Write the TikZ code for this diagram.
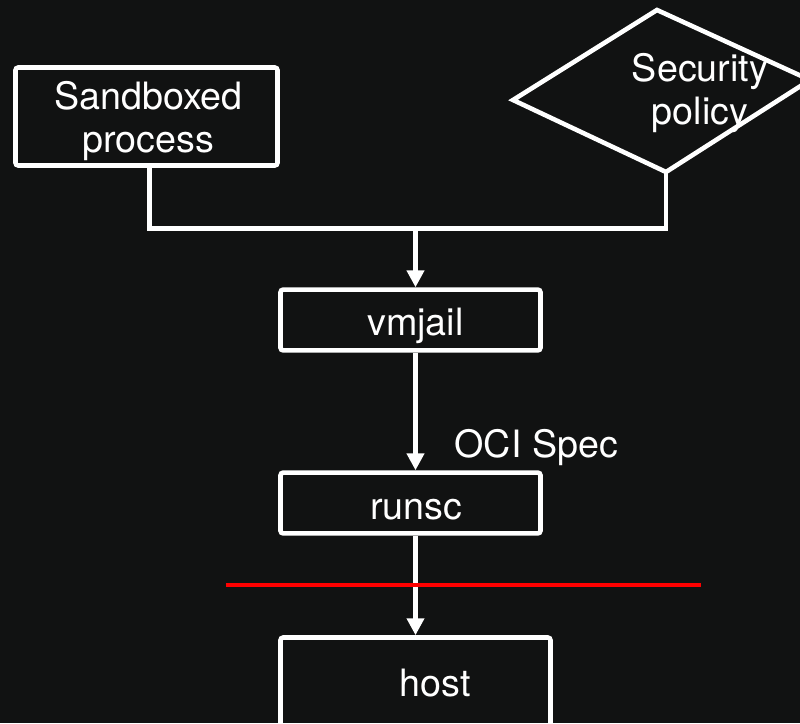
\documentclass[tikz,border=0pt]{standalone}
\usepackage{fontspec}
\setmainfont{TeX Gyre Heros}
\usetikzlibrary{arrows.meta}
\definecolor{bgdark}{RGB}{17,18,18}
\begin{document}
\begin{tikzpicture}[
   x=0.025cm,y=-0.025cm,
   font=\fontsize{26.8}{30.6}\selectfont,
   every node/.style={text=white,align=center},
   box/.style={draw=white,line width=0.115cm,rounded corners=2pt,inner sep=0pt},
   wire/.style={draw=white,line width=0.115cm},
   link/.style={wire,-{Triangle[width=0.42cm,length=0.42cm]}},
   cut/.style={draw=red,line width=0.11cm}]
\clip (0,0) rectangle (800,723);
\fill[bgdark] (0,0) rectangle (800,723);
\node[box,minimum width=6.55cm,minimum height=2.45cm] (sandbox) at (146.5,116.5) {};
\node[box,minimum width=6.5cm,minimum height=1.52cm] (vmjail) at (410.5,320) {};
\node[box,minimum width=6.5cm,minimum height=1.52cm] (runsc) at (410.5,503) {};
\node[box,minimum width=6.75cm,minimum height=2.25cm] (host) at (415.5,682.5) {};
\node (sandbox-t) at (148.5,121) {Sandboxed\\process};
\node (vmjail-t) at (415.5,326) {vmjail};
\node (runsc-t) at (416.5,510) {runsc};
\node (host-t) at (435,683) {host};
% policy diamond (skewed, runs off the right edge)
\coordinate (pol-t) at (657,10);
\coordinate (pol-r) at (810,80);
\coordinate (pol-b) at (666,172);
\coordinate (pol-l) at (513,100);
\draw[wire,line join=miter] (pol-t) -- (pol-r) -- (pol-b) -- (pol-l) -- cycle;
\node (policy) at (700,93) {Security\\policy};
% connectors
\coordinate (join) at (415.5,228.5);
\draw[wire] ([xshift=0.075cm]sandbox.south) |- (join) -| (pol-b);
\draw[link] (join) -- (join |- vmjail.north);
\draw[link] (vmjail.south -| join) -- node[pos=0.81,anchor=west,inner sep=0pt,xshift=0.92cm] (spec) {OCI Spec} (runsc.north -| join);
\draw[link] (runsc.south -| join) -- (host.north -| join);
% trust boundary
\coordinate (cut-l) at (226,585);
\coordinate (cut-r) at (701,585);
\draw[cut] (cut-l) -- (cut-r);
\end{tikzpicture}
\end{document}
